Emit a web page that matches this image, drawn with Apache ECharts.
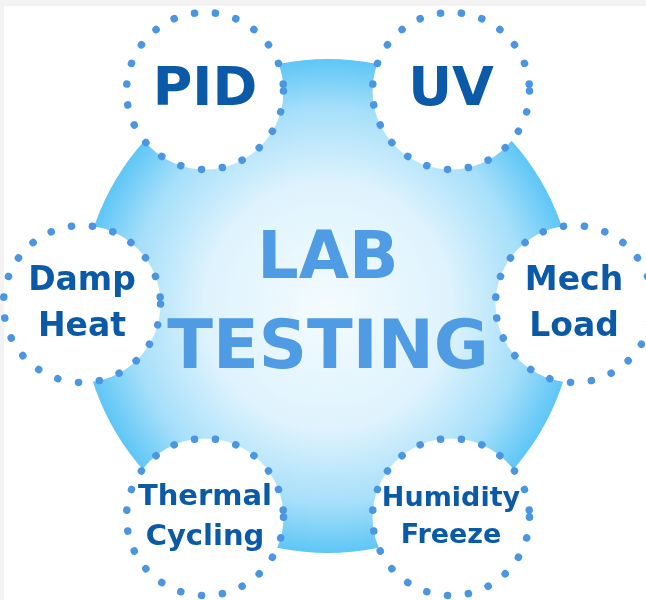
<!DOCTYPE html>
<html style="height: 100%">
<head>
  <meta charset="utf-8">
  <script src="https://cdn.jsdelivr.net/npm/echarts@6/dist/echarts.min.js"></script>
</head>
<body style="height: 100%; margin: 0">
  <div id="container" style="width: 646px; height: 600px"></div>
  <script type="text/javascript">
    // test types placed round the hub, clockwise from the right
    var tests = ['Mech Load', 'Humidity Freeze', 'Thermal Cycling', 'Damp Heat', 'PID', 'UV'];
    var testLabels = ['Mech\nLoad', 'Humidity\nFreeze', 'Thermal\nCycling', 'Damp\nHeat', 'PID', 'UV'];
    var ringValues = [1, 1, 1, 1, 1, 1];
    var hubLines = ['LAB', 'TESTING'];
    var hubValue = [1];

    var dom = document.getElementById('container');
    var myChart = echarts.init(dom);

    var font = 'DejaVu Sans';
    var labelSize = { 'PID': 54, 'UV': 54, 'Thermal Cycling': 29, 'Humidity Freeze': 27 };

    var ringData = tests.map(function (name, i) {
      var size = labelSize[name] || 33;
      return {
        name: name,
        value: [ringValues[i], i],
        label: { fontSize: size, lineHeight: Math.round(size * 1.38) }
      };
    });

    option = {
      backgroundColor: '#f3f3f3',
      animation: false,
      graphic: [{
        type: 'rect', left: 4, top: 6, z: -10,
        shape: { width: 642, height: 594 },
        style: { fill: '#ffffff' }
      }],
      polar: { center: [328, 304], radius: 246 },
      angleAxis: {
        type: 'category',
        data: tests,
        startAngle: 30,
        clockwise: true,
        axisLine: { show: false },
        axisTick: { show: false },
        axisLabel: { show: false },
        splitLine: { show: false }
      },
      radiusAxis: {
        min: 0,
        max: 1,
        axisLine: { show: false },
        axisTick: { show: false },
        axisLabel: { show: false },
        splitLine: { show: false }
      },
      series: [{
        type: 'pie',
        z: 1,
        silent: true,
        center: [328, 306],
        radius: [0, 247],
        data: hubValue.map(function (v) { return { name: hubLines.join('\n'), value: v }; }),
        itemStyle: {
          color: new echarts.graphic.RadialGradient(0.5, 0.5, 0.5, [
            { offset: 0, color: '#f4fbff' },
            { offset: 0.5, color: '#def3fd' },
            { offset: 0.8, color: '#a6dffa' },
            { offset: 1, color: '#5ec6f6' }
          ])
        },
        label: {
          show: true,
          position: 'center',
          fontFamily: font,
          fontWeight: 'bold',
          formatter: '{a|' + hubLines[0] + '}\n{b|' + hubLines[1] + '}',
          rich: {
            a: { color: '#4f9be4', fontFamily: font, fontWeight: 'bold', fontSize: 65, lineHeight: 90 },
            b: { color: '#4f9be4', fontFamily: font, fontWeight: 'bold', fontSize: 67, lineHeight: 90 }
          }
        },
        labelLine: { show: false }
      }, {
        type: 'scatter',
        coordinateSystem: 'polar',
        z: 2,
        silent: true,
        symbol: 'circle',
        symbolSize: 157,
        data: ringData,
        itemStyle: {
          color: '#ffffff',
          borderColor: '#4a96e2',
          borderWidth: 7.5,
          borderType: [0.1, 21],
          borderCap: 'round',
          opacity: 1
        },
        label: {
          show: true,
          position: 'inside',
          color: '#0b5aa8',
          fontFamily: font,
          fontWeight: 'bold',
          formatter: function (p) { return testLabels[p.dataIndex]; }
        }
      }]
    };
    myChart.setOption(option);
  </script>
</body>
</html>
